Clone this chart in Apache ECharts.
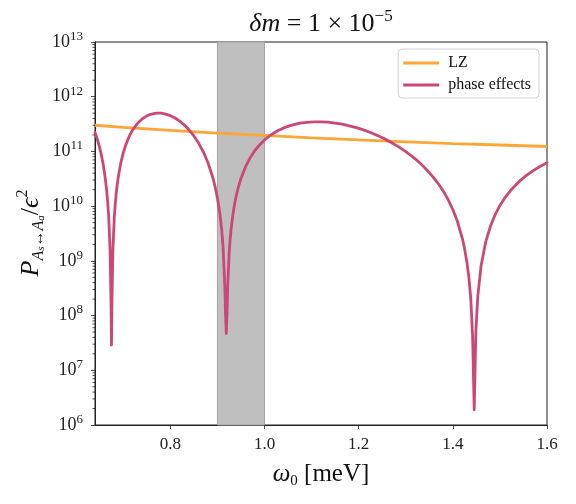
<!DOCTYPE html>
<html>
<head>
<meta charset="utf-8">
<script src="https://cdn.jsdelivr.net/npm/echarts@6/dist/echarts.min.js"></script>
<style>
  html, body { margin: 0; padding: 0; background: #fff; }
  #main { width: 576px; height: 504px; }
</style>
</head>
<body>
<div id="main"></div>
<script>
// omega_0 [meV] and P/eps^2 for the "phase effects" curve
var omega = [0.64, 0.6425, 0.645, 0.6475, 0.65, 0.6525, 0.655, 0.6575, 0.66, 0.6625, 0.665, 0.667, 0.669, 0.672, 0.674, 0.675,
  0.676, 0.678, 0.681, 0.683, 0.685, 0.6875, 0.69, 0.695, 0.70, 0.705, 0.71, 0.715, 0.72, 0.73, 0.74, 0.75, 0.76, 0.77,
  0.78, 0.79, 0.80, 0.81, 0.82, 0.83, 0.84, 0.85, 0.86, 0.87, 0.88, 0.89, 0.895, 0.90, 0.905, 0.909, 0.912, 0.916, 0.917, 0.9188,
  0.9205, 0.922, 0.925, 0.927, 0.93, 0.935, 0.94, 0.945, 0.95, 0.96, 0.97, 0.98, 0.99, 1.00, 1.015, 1.03, 1.045, 1.06,
  1.075, 1.09, 1.105, 1.12, 1.135, 1.15, 1.165, 1.18, 1.195, 1.21, 1.225, 1.24, 1.255, 1.27, 1.285, 1.30, 1.315, 1.33,
  1.345, 1.36, 1.37, 1.38, 1.39, 1.40, 1.41, 1.42, 1.425, 1.43, 1.434, 1.438, 1.442, 1.4454,
  1.449, 1.453, 1.46, 1.47, 1.48, 1.49, 1.50, 1.51, 1.525, 1.54, 1.555, 1.57, 1.585, 1.60]
var phase = [2.22e11, 1.93e11, 1.66e11, 1.40e11, 1.16e11, 9.42e10, 7.44e10, 5.69e10, 4.18e10, 2.88e10, 1.84e10, 1.17e10, 6.56e9, 1.61e9, 1.75e8, 2.9e7,
  1.80e8, 1.59e9, 6.23e9, 1.09e10, 1.69e10, 2.59e10, 3.67e10, 6.27e10, 9.39e10, 1.29e11, 1.67e11, 2.07e11, 2.46e11, 3.24e11, 3.92e11, 4.46e11, 4.83e11, 5.00e11,
  5.00e11, 4.82e11, 4.51e11, 4.08e11, 3.57e11, 3.03e11, 2.46e11, 1.92e11, 1.42e11, 9.88e10, 6.20e10, 3.38e10, 2.29e10, 1.41e10, 7.51e9, 3.75e9, 1.79e9, 2.96e8, 1.21e8, 4.7e7,
  1.10e8, 3.83e8, 1.42e9, 2.46e9, 4.52e9, 9.26e9, 1.55e10, 2.32e10, 3.21e10, 5.32e10, 7.77e10, 1.05e11, 1.33e11, 1.62e11, 2.04e11, 2.44e11, 2.78e11, 3.06e11,
  3.28e11, 3.41e11, 3.48e11, 3.48e11, 3.42e11, 3.30e11, 3.14e11, 2.94e11, 2.72e11, 2.47e11, 2.22e11, 1.95e11, 1.70e11, 1.44e11, 1.21e11, 9.91e10, 7.93e10, 6.18e10,
  4.58e10, 3.26e10, 2.51e10, 1.86e10, 1.32e10, 8.69e9, 5.18e9, 2.61e9, 1.66e9, 9.37e8, 5.07e8, 2.10e8, 4.24e7, 1.9e6,
  5.3e7, 2.27e8, 8.14e8, 2.25e9, 4.33e9, 7.02e9, 1.03e10, 1.40e10, 2.04e10, 2.77e10, 3.57e10, 4.42e10, 5.31e10, 6.23e10]

// Landau-Zener curve
var lzOmega = [0.64, 0.70, 0.80, 0.90, 1.00, 1.10, 1.20, 1.30, 1.40, 1.50, 1.60]
var lzVals = [3.01e11, 2.76e11, 2.43e11, 2.16e11, 1.96e11, 1.77e11, 1.62e11, 1.50e11, 1.39e11, 1.31e11, 1.23e11]

// shaded band
var band = [0.9, 1.0]

// log minor ticks on the y axis
var minorTicks = []
for (var e = 6; e < 13; e++) {
  for (var m = 2; m <= 9; m++) minorTicks.push(m * Math.pow(10, e))
}

var xMin = 0.64, xMax = 1.6
var serif = '"Liberation Serif", "DejaVu Serif", serif'

var chart = echarts.init(document.getElementById('main'))

var option = {
  animation: false,
  backgroundColor: '#fff',
  grid: {
    left: 95, right: 29, top: 42, bottom: 79,
    show: true, borderColor: '#222', borderWidth: 1, backgroundColor: 'transparent'
  },
  legend: {
    orient: 'vertical',
    right: 37, top: 49,
    padding: [6, 8, 5, 5],
    itemGap: 6,
    itemWidth: 36, itemHeight: 3,
    icon: 'rect',
    borderColor: '#d0d0d0', borderWidth: 1, borderRadius: 4,
    backgroundColor: 'rgba(255,255,255,0.85)',
    textStyle: { fontFamily: serif, fontSize: 16, color: '#111', padding: [0, 0, 0, 4] },
    data: ['LZ', 'phase effects']
  },
  xAxis: {
    type: 'value', min: xMin, max: xMax, splitNumber: 5,
    axisLine: { lineStyle: { color: '#222', width: 1 } },
    axisTick: { length: 4, lineStyle: { color: '#222', width: 0.8 } },
    axisLabel: { showMinLabel: false, margin: 11, fontFamily: serif, fontSize: 17, color: '#222',
      formatter: function (v) { return v.toFixed(1) } },
    splitLine: { show: false }
  },
  yAxis: {
    type: 'log', logBase: 10, min: 1e6, max: 1e13, splitNumber: 7,
    axisLine: { lineStyle: { color: '#222', width: 1 } },
    axisTick: { length: 4, lineStyle: { color: '#222', width: 0.8 } },
    axisLabel: {
      margin: 12, color: '#222',
      formatter: function (v) {
        var ex = Math.round(Math.log10(v))
        return '{b|10}{s|' + ex + '}'
      },
      rich: {
        b: { fontFamily: serif, fontSize: 18, lineHeight: 24, verticalAlign: 'middle', color: '#222' },
        s: { fontFamily: serif, fontSize: 13, lineHeight: 13, verticalAlign: 'top', color: '#222' }
      }
    },
    splitLine: { show: false }
  },
  graphic: [
    {
      type: 'text', x: 321, y: 24, z: 10,
      style: {
        text: '{i|δm}{n| = 1 × 10}{s|−5}',
        align: 'center', verticalAlign: 'middle',
        rich: {
          i: { fontFamily: serif, fontStyle: 'italic', fontSize: 26, lineHeight: 32, verticalAlign: 'middle', fill: '#111' },
          n: { fontFamily: serif, fontSize: 26, lineHeight: 32, verticalAlign: 'middle', fill: '#111' },
          s: { fontFamily: serif, fontSize: 17, lineHeight: 17, verticalAlign: 'top', fill: '#111' }
        }
      }
    },
    {
      type: 'text', x: 321, y: 474, z: 10,
      style: {
        text: '{i|ω}{sub|0}{n| [meV]}',
        align: 'center', verticalAlign: 'middle',
        rich: {
          i: { fontFamily: serif, fontStyle: 'italic', fontSize: 25, lineHeight: 30, verticalAlign: 'middle', fill: '#111' },
          sub: { fontFamily: serif, fontSize: 15, lineHeight: 15, verticalAlign: 'bottom', fill: '#111' },
          n: { fontFamily: serif, fontSize: 25, lineHeight: 30, verticalAlign: 'middle', fill: '#111' }
        }
      }
    },
    {
      type: 'text', x: 31, y: 233, rotation: Math.PI / 2, z: 10,
      style: {
        text: '{p|P}{sub|A}{ss|s}{sub|↔A}{ss|a}{n|/}{i|ϵ}{sup|2}',
        align: 'center', verticalAlign: 'middle',
        rich: {
          p: { fontFamily: serif, fontStyle: 'italic', fontSize: 26, lineHeight: 32, verticalAlign: 'middle', fill: '#111' },
          sub: { fontFamily: serif, fontStyle: 'italic', fontSize: 16, lineHeight: 16, verticalAlign: 'bottom', fill: '#111' },
          ss: { fontFamily: serif, fontStyle: 'italic', fontSize: 11, lineHeight: 11, verticalAlign: 'bottom', fill: '#111' },
          n: { fontFamily: serif, fontSize: 26, lineHeight: 32, verticalAlign: 'middle', fill: '#111' },
          i: { fontFamily: serif, fontStyle: 'italic', fontSize: 26, lineHeight: 32, verticalAlign: 'middle', fill: '#111' },
          sup: { fontFamily: serif, fontSize: 16, lineHeight: 16, verticalAlign: 'top', fill: '#111' }
        }
      }
    }
  ],
  series: [
    {
      name: 'band', type: 'line', data: [], z: 1, silent: true,
      markArea: {
        silent: true,
        itemStyle: { color: '#bfbfbf', borderColor: '#a3a3a3', borderWidth: 1 },
        data: [[{ xAxis: band[0] }, { xAxis: band[1] }]]
      }
    },
    {
      name: 'LZ', type: 'line', z: 3,
      data: lzOmega.map(function (x, i) { return [x, lzVals[i]] }),
      showSymbol: false, symbol: 'none',
      lineStyle: { color: '#fca636', width: 2.8 }, itemStyle: { color: '#fca636' }
    },
    {
      name: 'phase effects', type: 'line', z: 4,
      data: omega.map(function (x, i) { return [x, phase[i]] }),
      showSymbol: false, symbol: 'none',
      lineStyle: { color: '#cc4778', width: 2.8, join: 'round', cap: 'round' }, itemStyle: { color: '#cc4778' }
    },
    {
      name: 'minor', type: 'custom', silent: true, z: 5, clip: false,
      data: minorTicks.map(function (v) { return [xMin, v] }),
      renderItem: function (params, api) {
        var p = api.coord([api.value(0), api.value(1)])
        return {
          type: 'line',
          shape: { x1: p[0] - 2.5, y1: p[1], x2: p[0], y2: p[1] },
          style: { stroke: '#222', lineWidth: 0.8 }
        }
      }
    }
  ]
}

chart.setOption(option)
</script>
</body>
</html>
